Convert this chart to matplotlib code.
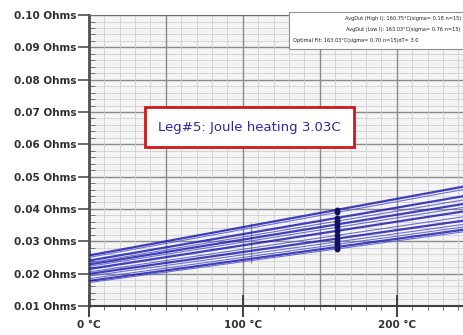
import numpy as np
import matplotlib.pyplot as plt
from matplotlib.ticker import MultipleLocator, FuncFormatter

# resistance of each leg at 0 C and at the measured point (161 C)
r_at_0 = [0.0256, 0.0250, 0.0240, 0.0233, 0.0228, 0.0222, 0.0214, 0.0205, 0.0199, 0.0192, 0.0184, 0.0177, 0.0172]
r_at_161 = [0.0397, 0.0389, 0.0372, 0.0362, 0.0352, 0.0343, 0.0332, 0.0318, 0.0308, 0.0298, 0.0290, 0.0282, 0.0276]
line_weight = [1.6, 0.8, 1.6, 0.8, 1.6, 0.8, 1.6, 0.8, 1.6, 0.8, 0.8, 1.6, 0.8]
t_meas = 161
t_err = 105
err_span = [0.0233, 0.0357]

legend_lines = ["AvgDut (High I): 160.75°C(sigma= 0.18 n=15)",
                "AvgDut (Low I): 163.03°C(sigma= 0.76 n=15)",
                "Optimal Fit: 163.03°C(sigma= 0.70 n=15)dT= 3.0"]
note = "Leg#5: Joule heating 3.03C"

fig = plt.figure(figsize=(4.63, 3.35), dpi=100)
ax = fig.add_axes([0.192, 0.087, 0.808, 0.868])
ax.set_facecolor('#f4f4f4')

t = np.array([0, 250])
for r0, r1, lw in zip(r_at_0, r_at_161, line_weight):
    slope = (r1 - r0) / t_meas
    ax.plot(t, r0 + slope * t, color='#2020b0' if lw > 1 else '#5a5ad0',
            lw=lw, alpha=0.85, zorder=3)
    ax.plot([t_meas], [r1], 'o', color='#101060', ms=3.2, zorder=4)

ax.vlines(t_err, err_span[0], err_span[1], color='#8080a0', lw=0.8, zorder=2)

ax.set_xlim(0, 243)
ax.set_ylim(0.01, 0.10)
ax.xaxis.set_major_locator(MultipleLocator(100))
ax.xaxis.set_minor_locator(MultipleLocator(10))
ax.yaxis.set_major_locator(MultipleLocator(0.01))
ax.yaxis.set_minor_locator(MultipleLocator(0.002))
ax.xaxis.set_major_formatter(FuncFormatter(lambda v, p: f"{v:.0f} °C"))
ax.yaxis.set_major_formatter(FuncFormatter(lambda v, p: f"{v:.2f} Ohms"))

# grid: heavy lines every 0.01 / 50 C, light ones in between
for y in np.arange(0.01, 0.1001, 0.002):
    major = abs(round(y / 0.01) * 0.01 - y) < 1e-6
    ax.axhline(y, color='#8a8a8a' if major else '#d0d0d0', lw=1.0 if major else 0.6, zorder=1)
for x in range(0, 250, 10):
    major = x % 50 == 0
    ax.axvline(x, color='#8a8a8a' if major else '#d0d0d0', lw=1.0 if major else 0.6, zorder=1)

ax.spines['right'].set_visible(False)
ax.spines['top'].set_color('#707070')
ax.spines['left'].set_color('#505050')
ax.spines['left'].set_linewidth(2.0)
ax.spines['bottom'].set_color('#404040')
ax.spines['bottom'].set_linewidth(1.5)

ax.tick_params(axis='y', which='major', direction='out', length=8, width=1.2,
               color='#505050', labelsize=7.5, labelcolor='#303030', pad=1)
ax.tick_params(axis='y', which='minor', direction='in', length=4, color='#606060')
ax.tick_params(axis='x', which='major', direction='inout', length=16, width=1.4,
               color='#404040', labelsize=7.5, labelcolor='#303030', pad=2)
ax.tick_params(axis='x', which='minor', direction='out', length=3, color='#505050')
for lab in ax.get_xticklabels() + ax.get_yticklabels():
    lab.set_fontweight('bold')

ax.text(0.43, 0.615, note, transform=ax.transAxes, fontsize=9.5, color='#2a2aa8',
        va='center', ha='center', zorder=6,
        bbox=dict(boxstyle='square,pad=1.0', fc='white', ec='#d01818', lw=2))

# small fit summary box in the top right corner
fig.patches.append(plt.Rectangle((0.625, 0.855), 0.375, 0.108, transform=fig.transFigure,
                                 fc='white', ec='#909090', lw=0.8, zorder=5))
for i, s in enumerate(legend_lines):
    fig.text(0.995 if i < 2 else 0.632, 0.945 - i * 0.033, s, fontsize=3.6,
             ha='right' if i < 2 else 'left', va='center', color='#202020', zorder=6)

fig.savefig('out.png', dpi=100)
